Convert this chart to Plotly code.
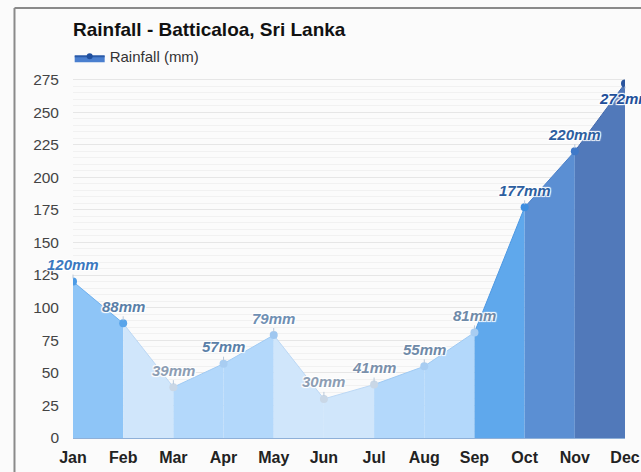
import plotly.graph_objects as go

months = ["Jan", "Feb", "Mar", "Apr", "May", "Jun", "Jul", "Aug", "Sep", "Oct", "Nov", "Dec"]
rainfall = [120, 88, 39, 57, 79, 30, 41, 55, 81, 177, 220, 272]
labels = [f"{v}mm" for v in rainfall]

# colours for each month-to-month band, markers and labels
seg_fill = ["#8ec5f7", "#d0e6fb", "#b3d8fb", "#b3d8fb", "#d0e6fb", "#d0e6fb",
            "#b3d8fb", "#b3d8fb", "#5fa8ec", "#5b8fd3", "#5179ba"]
seg_line = ["#6fb0ee", "#bcd8f5", "#9fcaf3", "#9fcaf3", "#bcd8f5", "#bcd8f5",
            "#9fcaf3", "#9fcaf3", "#4d98e2", "#4a80c9", "#4268ad"]
marker_col = ["#4c9be6", "#5aa5ea", "#c9d7e6", "#a8cdf2", "#9fc7f0", "#c9d7e6",
              "#c9d7e6", "#a8cdf2", "#a8cdf2", "#3d8ee0", "#3f79c8", "#2a559e"]
label_col = ["#3a78c0", "#5a7fa8", "#8c9db3", "#5a7fa8", "#6f8fb3", "#8c9db3",
             "#7a90ab", "#6f8aa8", "#6f8aa8", "#2d5fa0", "#2d5fa0", "#22509a"]

fig = go.Figure()

for i in range(len(months) - 1):
    fig.add_trace(go.Scatter(x=[months[i], months[i + 1]], y=[rainfall[i], rainfall[i + 1]],
                             mode="lines", fill="tozeroy", fillcolor=seg_fill[i],
                             line=dict(color=seg_line[i], width=1), showlegend=False,
                             hoverinfo="skip"))

fig.add_trace(go.Scatter(x=months, y=rainfall, mode="markers",
                         marker=dict(color=marker_col, size=8), showlegend=False))

# legend only
fig.add_trace(go.Scatter(x=[None], y=[None], mode="lines+markers", name="Rainfall (mm)",
                         fill="tozeroy", fillcolor="#4a7fcf",
                         line=dict(color="#2a5aa8", width=2),
                         marker=dict(color="#1f4f9e", size=6)))

shadow = "1px 1px 1px white, -1px -1px 1px white, 1px -1px 1px white, -1px 1px 1px white"
for i, m in enumerate(months):
    last = i == len(months) - 1
    fig.add_annotation(x=m, y=rainfall[i], text=labels[i], showarrow=True,
                       arrowhead=0, arrowwidth=1, arrowcolor="#b8c8da",
                       ax=0, ay=15 if last else -17, standoff=3,
                       font=dict(family="Liberation Sans, Arial", size=15, color=label_col[i],
                                 weight="bold", style="italic", shadow=shadow))

fig.update_layout(
    width=641, height=472,
    margin=dict(l=73, r=16, t=72.5, b=34, autoexpand=False),
    paper_bgcolor="#fbfbfb", plot_bgcolor="#fbfbfb",
    title=dict(text="<b>Rainfall - Batticaloa, Sri Lanka</b>", x=0, xref="paper", xanchor="left",
               y=(472 - 29) / 472, yanchor="middle",
               font=dict(family="Liberation Sans, Arial", size=19, color="#111")),
    legend=dict(x=-0.006, xanchor="left", y=1.045, yanchor="middle",
                font=dict(family="Liberation Sans, Arial", size=15, color="#333"),
                bgcolor="rgba(0,0,0,0)"),
    font=dict(family="Liberation Sans, Arial"),
    shapes=[
        dict(type="line", xref="paper", yref="paper", x0=-0.106, x1=1.1, y0=1.178, y1=1.178,
             line=dict(color="#8a8a8a", width=2), layer="above"),
        dict(type="line", xref="paper", yref="paper", x0=-0.106, x1=-0.106, y0=-0.1, y1=1.178,
             line=dict(color="#8a8a8a", width=2), layer="above"),
    ],
)

fig.update_xaxes(type="category", categoryorder="array", categoryarray=months,
                 range=[0, 11], showgrid=False, showline=False, ticks="",
                 ticklabelstandoff=8, automargin=False,
                 tickfont=dict(size=16, color="#222", weight="bold"))
fig.update_yaxes(range=[0, 280], tickvals=list(range(0, 276, 25)),
                 showgrid=True, gridcolor="#e6e6e6", gridwidth=1,
                 minor=dict(dtick=5, showgrid=True, gridcolor="#f1f1f1"),
                 zeroline=True, zerolinecolor="#8fb0d8", zerolinewidth=1,
                 ticklabelstandoff=13, automargin=False,
                 tickfont=dict(size=15.5, color="#444"))

fig.write_html("out.html", config={"displayModeBar": False},
               post_script="document.body.style.margin='0';")
